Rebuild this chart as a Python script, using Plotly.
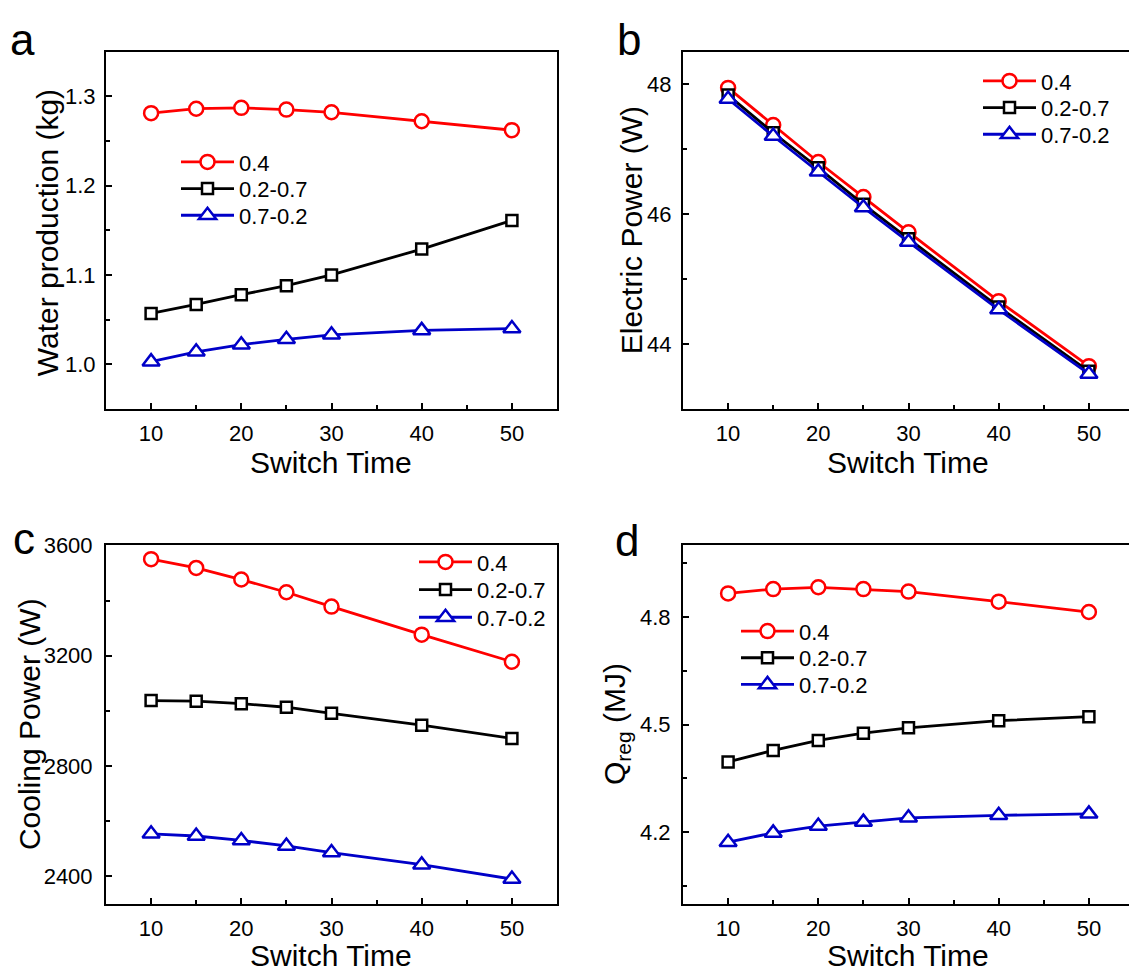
import plotly.graph_objects as go

# ---------------- data ----------------
switch_time = [10, 15, 20, 25, 30, 40, 50]
series_names = ["0.4", "0.2-0.7", "0.7-0.2"]

water_04 = [1.281, 1.286, 1.287, 1.285, 1.282, 1.272, 1.262]
water_27 = [1.057, 1.067, 1.078, 1.088, 1.100, 1.129, 1.161]
water_72 = [1.003, 1.014, 1.022, 1.028, 1.033, 1.038, 1.040]

elec_04 = [47.94, 47.37, 46.80, 46.26, 45.72, 44.66, 43.66]
elec_27 = [47.83, 47.25, 46.71, 46.15, 45.62, 44.57, 43.58]
elec_72 = [47.77, 47.20, 46.65, 46.10, 45.57, 44.53, 43.54]

cool_04 = [3550, 3518, 3476, 3430, 3378, 3276, 3178]
cool_27 = [3037, 3035, 3026, 3013, 2991, 2948, 2900]
cool_72 = [2554, 2546, 2530, 2510, 2486, 2442, 2390]

qreg_04 = [4.866, 4.878, 4.883, 4.878, 4.871, 4.843, 4.814]
qreg_27 = [4.396, 4.428, 4.456, 4.476, 4.491, 4.511, 4.522]
qreg_72 = [4.172, 4.198, 4.217, 4.228, 4.240, 4.247, 4.251]

panel_letters = ["a", "b", "c", "d"]
y_titles = ["Water production (kg)", "Electric Power (W)",
            "Cooling Power (W)", "Q<sub>reg</sub> (MJ)"]
x_title = "Switch Time"

# ---------------- styling ----------------
W, H = 1129, 973
FONT = "Liberation Sans, Arial, sans-serif"
colors = ["#ff0000", "#000000", "#0000c8"]
symbols = ["circle", "square", "triangle-up"]
msizes = [14, 11, 15]


def px_x(p):
    return p / W


def px_y(p):
    return 1 - p / H


# frames in pixels: (left, right, top, bottom)
frames = [(106, 557, 40, 402), (683, 1129, 40, 402),
          (106, 557, 540, 903), (683, 1129, 540, 903)]
px_per_unit = 451 / 50.0
x_ranges = [[5, 55], [5, 5 + 446 / px_per_unit], [5, 55], [5, 5 + 446 / px_per_unit]]
y_ranges = [[0.95, 1.35], [43, 48.5], [2300, 3600], [4.0, 5.0]]
y_dticks = [0.1, 2, 400, 0.3]
y_tick0 = [1.0, 44, 2400, 4.2]
y_minor = [0.05, 1, 200, 0.15]
y_fmt = [".1f", "d", "d", ".1f"]
y_standoff = [4, 5, 7, 6]

data_sets = [
    [water_04, water_27, water_72],
    [elec_04, elec_27, elec_72],
    [cool_04, cool_27, cool_72],
    [qreg_04, qreg_27, qreg_72],
]

# legend rows: (line start x px, first row center y px, row spacing px)
legend_rows = [(181, 152, 27), (983, 70, 27), (419, 557, 28), (741, 627, 27)]

layout = dict(
    width=W, height=H, margin=dict(l=0, r=0, t=0, b=0),
    paper_bgcolor="white", plot_bgcolor="white",
    font=dict(family=FONT, color="black", size=22),
    annotations=[], showlegend=True,
)

fig = go.Figure()
for i, ds in enumerate(data_sets):
    sfx = "" if i == 0 else str(i + 1)
    lx, ly, dy = legend_rows[i]
    for j, ys in enumerate(ds):
        k = i * 3 + j + 1
        lid = "legend" if k == 1 else "legend%d" % k
        fig.add_trace(go.Scatter(
            x=switch_time, y=ys, name=series_names[j],
            mode="lines+markers",
            line=dict(color=colors[j], width=2.8),
            marker=dict(symbol=symbols[j], size=msizes[j],
                        color="white", line=dict(color=colors[j], width=2.5)),
            xaxis="x" + sfx, yaxis="y" + sfx, legend=lid,
        ))
        layout[lid] = dict(
            x=px_x(lx - 5), y=px_y(ly + j * dy), xanchor="left", yanchor="middle",
            bgcolor="rgba(0,0,0,0)", borderwidth=0,
            font=dict(family=FONT, size=22, color="black"),
            itemwidth=53,
        )

for i in range(4):
    sfx = "" if i == 0 else str(i + 1)
    l, r, t, b = frames[i]
    layout["xaxis" + sfx] = dict(
        domain=[px_x(l), px_x(r)], range=x_ranges[i], anchor="y" + sfx,
        tickmode="linear", tick0=0, dtick=10,
        ticks="inside", ticklen=6, tickwidth=2, tickcolor="black",
        minor=dict(ticks="inside", ticklen=4, tickwidth=2, tickcolor="black", dtick=5, tick0=0),
        showline=True, linewidth=2, linecolor="black", mirror=True,
        showgrid=False, zeroline=False,
        tickfont=dict(family=FONT, size=22, color="black"),
        ticklabelstandoff=4,
    )
    layout["yaxis" + sfx] = dict(
        domain=[px_y(b), px_y(t)], range=y_ranges[i], anchor="x" + sfx,
        tickmode="linear", tick0=y_tick0[i], dtick=y_dticks[i], tickformat=y_fmt[i],
        ticks="inside", ticklen=6, tickwidth=2, tickcolor="black",
        minor=dict(ticks="inside", ticklen=4, tickwidth=2, tickcolor="black",
                   dtick=y_minor[i], tick0=y_tick0[i]),
        showline=True, linewidth=2, linecolor="black", mirror=(i % 2 == 0),
        showgrid=False, zeroline=False,
        tickfont=dict(family=FONT, size=22, color="black"),
        ticklabelstandoff=y_standoff[i],
    )

# axis titles and panel letters (pixel positions)
ytitle_pos = [(47, 224), (631, 221), (29, 721), (616, 721)]
# x titles: (center x, bottom y of the text box)
xtitle_pos = [(331, 474), (908, 474), (331, 973), (908, 973)]
letter_pos = [(22, 28), (629, 28), (24, 533), (627, 535)]
for i in range(4):
    layout["annotations"].append(dict(
        text=y_titles[i], x=px_x(ytitle_pos[i][0]), y=px_y(ytitle_pos[i][1]),
        xref="paper", yref="paper", showarrow=False, textangle=-90, borderpad=0,
        xanchor="center", yanchor="middle", font=dict(family=FONT, size=30, color="black")))
    layout["annotations"].append(dict(
        text=x_title, x=px_x(xtitle_pos[i][0]), y=px_y(xtitle_pos[i][1]),
        xref="paper", yref="paper", showarrow=False, borderpad=0,
        xanchor="center", yanchor="bottom", font=dict(family=FONT, size=30, color="black")))
    layout["annotations"].append(dict(
        text=panel_letters[i], x=px_x(letter_pos[i][0]), y=px_y(letter_pos[i][1]),
        xref="paper", yref="paper", showarrow=False, borderpad=0,
        xanchor="center", yanchor="middle", font=dict(family=FONT, size=44, color="black")))

fig.update_layout(**layout)
fig.write_html("out.html")
